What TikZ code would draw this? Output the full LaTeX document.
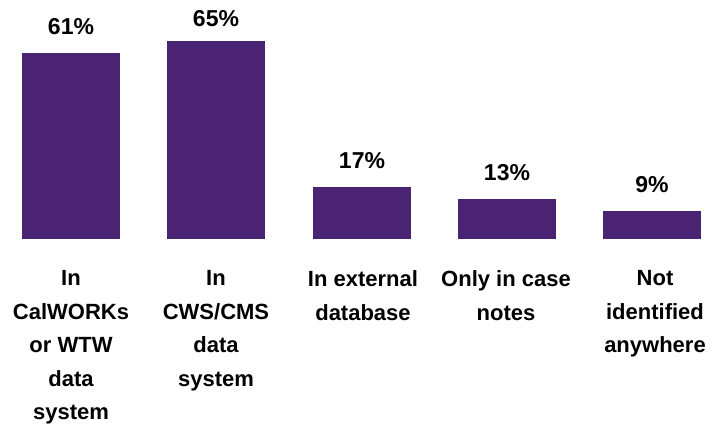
\documentclass[tikz,border=0pt]{standalone}
\usepackage{fontspec}
\setmainfont{Liberation Sans}
\usetikzlibrary{positioning}
\definecolor{barpurple}{RGB}{75,35,115}

\begin{document}
\begin{tikzpicture}[x=1pt,y=-1pt,
    bar/.style={fill=barpurple,draw=none,inner sep=0pt,minimum width=98pt,anchor=south west},
    pct/.style={font=\bfseries\fontsize{23}{27}\selectfont,anchor=base,inner sep=0pt},
    cat/.style={font=\bfseries\fontsize{22}{33.5}\selectfont,align=center,anchor=north,inner sep=0pt}]
        \useasboundingbox (0,0) rectangle (715,428);
        % bars
        \node[bar,minimum height=186pt] (bar1) at (22,239) {};
        \node[bar,minimum height=198pt] (bar2) at (167,239) {};
        \node[bar,minimum height=52pt] (bar3) at (313,239) {};
        \node[bar,minimum height=40pt] (bar4) at (458,239) {};
        \node[bar,minimum height=28pt] (bar5) at (603,239) {};
        % values
        \node[pct] (val1) at (71,35) {61\%};
        \node[pct] (val2) at (216,27) {65\%};
        \node[pct] (val3) at (362,168) {17\%};
        \node[pct] (val4) at (507,180) {13\%};
        \node[pct] (val5) at (652,192) {9\%};
        % categories
        \node[cat] (cat1) at (71,270.5) {In\\CalWORKs\\or WTW\\data\\system};
        \node[cat] (cat2) at (216,270.5) {In\\CWS/CMS\\data\\system};
        \node[cat] (cat3) at (363,270.5) {In external\\database};
        \node[cat] (cat4) at (506,270.5) {Only in case\\notes};
        \node[cat] (cat5) at (655,270.5) {Not\\identified\\anywhere};
\end{tikzpicture}
\end{document}
